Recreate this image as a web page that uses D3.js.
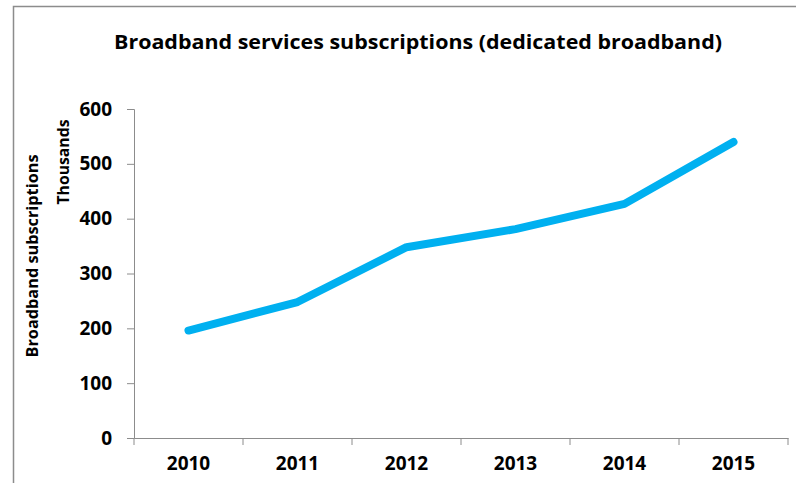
<!DOCTYPE html>
<html>
<head>
<meta charset="utf-8">
<script src="https://cdn.jsdelivr.net/npm/d3@7"></script>
<style>
  body { margin: 0; background: #fff; }
  text { font-family: "Open Sans", "Noto Sans", sans-serif; font-weight: bold; fill: #000; }
</style>
</head>
<body>
<svg width="796" height="483"></svg>
<script>
const width = 796;
const height = 483;

// data (thousands of subscriptions)
const years = ['2010', '2011', '2012', '2013', '2014', '2015'];
const subscriptions = [196, 248, 348, 381, 427, 540];
const yTicks = [0, 100, 200, 300, 400, 500, 600];

const svg = d3.select('svg');

const margin = { top: 109, bottom: 45, left: 134, right: 8 };
const innerWidth = width - margin.left - margin.right;
const innerHeight = height - margin.top - margin.bottom;

// chart area frame (left + top edges only visible)
svg.append('path')
    .attr('d', 'M13.5,483 L13.5,6.5 L796,6.5')
    .attr('fill', 'none')
    .attr('stroke', '#8c8c8c')
    .attr('stroke-width', 1.5);

svg.append('text')
    .text('Broadband services subscriptions (dedicated broadband)')
    .attr('x', 418)
    .attr('y', 49)
    .attr('text-anchor', 'middle')
    .attr('font-size', 20)
    .attr('textLength', 608)
    .attr('lengthAdjust', 'spacingAndGlyphs');

const g = svg.append('g')
    .attr('transform', 'translate(' + margin.left + ', ' + margin.top + ')');

const xScale = d3.scaleBand()
    .domain(years)
    .range([0, innerWidth]);

const yScale = d3.scaleLinear()
    .domain([0, 600])
    .range([innerHeight, 0]);

const yAxis = d3.axisLeft(yScale)
    .tickValues(yTicks)
    .tickSize(7)
    .tickPadding(15);

const yAxisG = g.append('g').call(yAxis);
yAxisG.selectAll('text').attr('font-size', 19);

const xAxis = d3.axisBottom(xScale)
    .tickSize(0)
    .tickPadding(19);

const xAxisG = g.append('g').call(xAxis)
    .attr('transform', 'translate(0, ' + innerHeight + ')');
xAxisG.selectAll('text').attr('font-size', 19);

// tick marks between categories
xAxisG.selectAll('.sep')
    .data(d3.range(years.length + 1))
    .enter()
    .append('line')
    .attr('class', 'sep')
    .attr('x1', i => i * xScale.step())
    .attr('x2', i => i * xScale.step())
    .attr('y1', 0)
    .attr('y2', 7);

g.selectAll('.domain, .tick line, line.sep')
    .attr('stroke', '#8c8c8c');
g.selectAll('.domain').attr('stroke-width', 1);

g.append('text')
    .text('Broadband subscriptions')
    .attr('transform', 'translate(' + (38 - margin.left) + ',' + (256 - margin.top) + ') rotate(-90)')
    .attr('text-anchor', 'middle')
    .attr('font-size', 16)
    .attr('textLength', 203)
    .attr('lengthAdjust', 'spacingAndGlyphs');

g.append('text')
    .text('Thousands')
    .attr('transform', 'translate(' + (69 - margin.left) + ',' + (162 - margin.top) + ') rotate(-90)')
    .attr('text-anchor', 'middle')
    .attr('font-size', 16)
    .attr('textLength', 85)
    .attr('lengthAdjust', 'spacingAndGlyphs');

const line = d3.line()
    .x((d, i) => xScale(years[i]) + xScale.bandwidth() / 2)
    .y(d => yScale(d));

g.append('path')
    .datum(subscriptions)
    .attr('d', line)
    .attr('fill', 'none')
    .attr('stroke', '#00b0f0')
    .attr('stroke-width', 8)
    .attr('stroke-linecap', 'round')
    .attr('stroke-linejoin', 'round');
</script>
</body>
</html>
